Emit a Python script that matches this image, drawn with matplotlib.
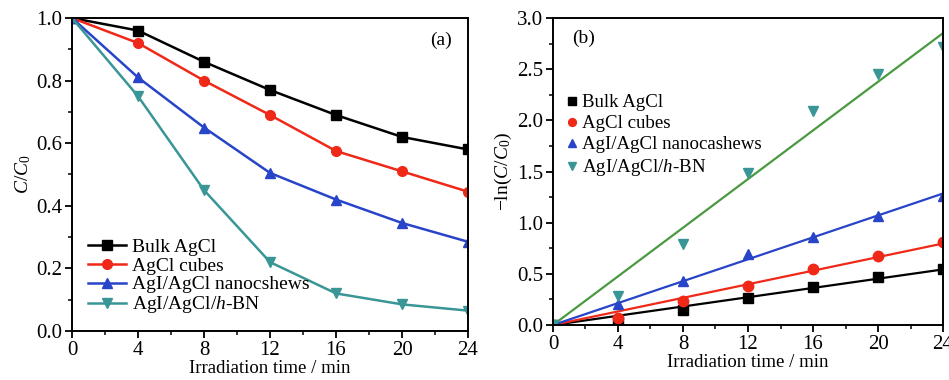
import numpy as np
import matplotlib
matplotlib.use("Agg")
import matplotlib.pyplot as plt
from matplotlib.ticker import MultipleLocator

plt.rcParams['font.family'] = ['Liberation Serif', 'DejaVu Serif']
plt.rcParams['mathtext.fontset'] = 'custom'
plt.rcParams['mathtext.rm'] = 'Liberation Serif'
plt.rcParams['mathtext.it'] = 'Liberation Serif:italic'

time = [0, 4, 8, 12, 16, 20, 24]
labels_a = ["Bulk AgCl", "AgCl cubes", "AgI/AgCl nanocshews", "AgI/AgCl/$h$-BN"]
labels_b = ["Bulk AgCl", "AgCl cubes", "AgI/AgCl nanocashews", "AgI/AgCl/$h$-BN"]

bulk_c = [1.0, 0.96, 0.86, 0.77, 0.69, 0.62, 0.58]
cubes_c = [1.0, 0.92, 0.80, 0.69, 0.575, 0.51, 0.445]
nano_c = [1.0, 0.81, 0.65, 0.505, 0.42, 0.345, 0.285]
hbn_c = [1.0, 0.75, 0.45, 0.22, 0.12, 0.085, 0.065]

bulk_ln = [0.0, 0.03, 0.15, 0.26, 0.37, 0.47, 0.55]
cubes_ln = [0.0, 0.07, 0.23, 0.38, 0.55, 0.67, 0.81]
nano_ln = [0.0, 0.21, 0.43, 0.69, 0.86, 1.07, 1.26]
hbn_ln = [0.0, 0.28, 0.79, 1.49, 2.09, 2.45, 2.72]

colors = ["#000000", "#f02818", "#2844c8", "#3a9696"]
fit_colors = ["#000000", "#f02818", "#2844c8", "#4a9a40"]
markers = ["s", "o", "^", "v"]

fig = plt.figure(figsize=(9.49, 3.8), dpi=100)
ax1 = fig.add_axes([0.0759, 0.129, 0.4173, 0.8236])
ax2 = fig.add_axes([0.5827, 0.1447, 0.411, 0.8079])

data_a = [bulk_c, cubes_c, nano_c, hbn_c]
for y, c, m, lab in zip(data_a, colors, markers, labels_a):
    ax1.plot(time, y, color=c, marker=m, ms=7, lw=1.8, label=lab)

ax1.set_xlim(0, 24)
ax1.set_ylim(0, 1.0)
ax1.xaxis.set_major_locator(MultipleLocator(4))
ax1.xaxis.set_minor_locator(MultipleLocator(2))
ax1.yaxis.set_major_locator(MultipleLocator(0.2))
ax1.yaxis.set_minor_locator(MultipleLocator(0.1))
ax1.yaxis.set_major_formatter(matplotlib.ticker.FormatStrFormatter('%.1f'))
ax1.set_xlabel("Irradiation time / min", fontsize=13.5, labelpad=0)
ax1.set_ylabel("$C/C_0$", fontsize=14, labelpad=2)
ax1.text(0.96, 0.93, "(a)", transform=ax1.transAxes, ha="right", va="center", fontsize=14)
ax1.legend(loc="lower left", bbox_to_anchor=(0.0, 0.0), frameon=False, fontsize=14,
           handlelength=2.0, handletextpad=0.3, labelspacing=0.05, borderaxespad=0.4)

data_b = [bulk_ln, cubes_ln, nano_ln, hbn_ln]
t = np.array(time, dtype=float)
for y, c, fc, m, lab in zip(data_b, colors, fit_colors, markers, labels_b):
    y = np.array(y)
    k = np.sum(t * y) / np.sum(t * t)
    ax2.plot(t, k * t, color=fc, lw=1.6)
    ax2.plot(t, y, linestyle="none", color=c, marker=m, ms=7.5, label=lab)

ax2.set_xlim(0, 24)
ax2.set_ylim(0, 3.0)
ax2.xaxis.set_major_locator(MultipleLocator(4))
ax2.xaxis.set_minor_locator(MultipleLocator(2))
ax2.yaxis.set_major_locator(MultipleLocator(0.5))
ax2.yaxis.set_minor_locator(MultipleLocator(0.25))
ax2.yaxis.set_major_formatter(matplotlib.ticker.FormatStrFormatter('%.1f'))
ax2.set_xlabel("Irradiation time / min", fontsize=13.5, labelpad=0)
ax2.set_ylabel("$-$ln($C/C_0$)", fontsize=14, labelpad=2)
ax2.text(0.05, 0.935, "(b)", transform=ax2.transAxes, ha="left", va="center", fontsize=14)
ax2.legend(loc="upper left", bbox_to_anchor=(0.0, 0.795), frameon=False, fontsize=13.6,
           handlelength=0.6, handletextpad=0.25, labelspacing=0.2, borderaxespad=0.3,
           markerscale=0.75)

for ax in (ax1, ax2):
    for s in ax.spines.values():
        s.set_linewidth(1.4)
    ax.tick_params(which="major", direction="out", length=5, width=1.3, labelsize=15, pad=2)
    ax.tick_params(which="minor", direction="out", length=3, width=1.1)

fig.savefig("out.png", dpi=100)
